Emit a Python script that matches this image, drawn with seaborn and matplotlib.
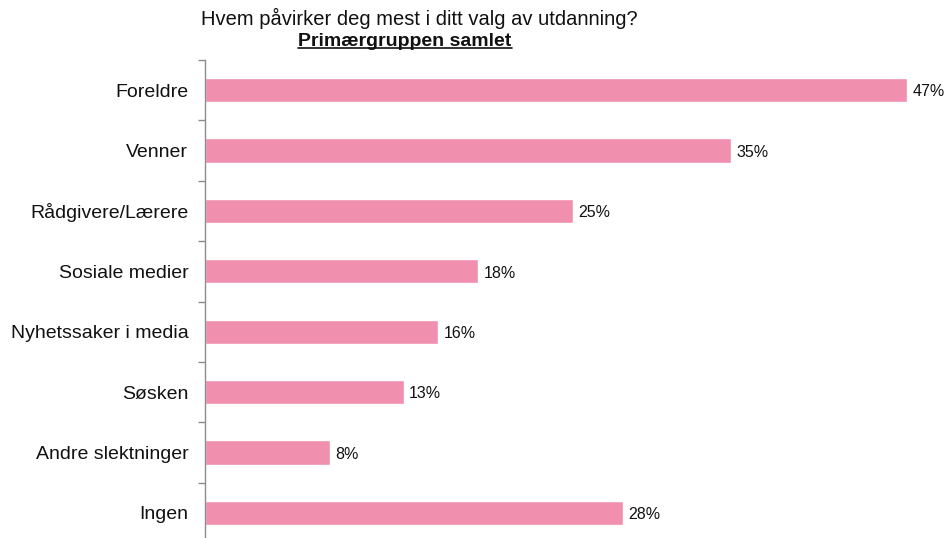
import pandas as pd
import matplotlib.pyplot as plt
import seaborn as sns
from matplotlib.lines import Line2D
from matplotlib.ticker import FixedLocator

# Data
categories = ['Foreldre', 'Venner', 'Rådgivere/Lærere', 'Sosiale medier',
              'Nyhetssaker i media', 'Søsken', 'Andre slektninger', 'Ingen']
shares = [47.0, 35.2, 24.6, 18.3, 15.6, 13.3, 8.4, 28.0]
labels = ['47%', '35%', '25%', '18%', '16%', '13%', '8%', '28%']

df = pd.DataFrame({'Kategori': categories, 'Andel': shares})

sns.set_style('white')
plt.rcParams['font.family'] = ['Liberation Sans', 'DejaVu Sans']

fig = plt.figure(figsize=(9.52, 5.38), dpi=100)
ax = fig.add_axes([205 / 952, -5 / 538, 1 - 205 / 952, 483 / 538])

sns.barplot(data=df, x='Andel', y='Kategori', orient='h', color='#F090AE',
            width=0.4, saturation=1, ax=ax)

ax.set_xlim(0, 50)
ax.set_ylim(len(categories) - 0.5, -0.5)
ax.set_xlabel('')
ax.set_ylabel('')
ax.set_xticks([])

# Spines: only the left axis line
for side in ['top', 'right', 'bottom']:
    ax.spines[side].set_visible(False)
ax.spines['left'].set_color('#8c8c8c')
ax.spines['left'].set_linewidth(1)

ax.tick_params(axis='y', which='major', left=True, length=0, pad=12,
               labelsize=14, labelcolor='#111111')
ax.yaxis.set_minor_locator(FixedLocator([i - 0.5 for i in range(len(categories) + 1)]))
ax.tick_params(axis='y', which='minor', left=True, length=5, width=1,
               color='#8c8c8c', direction='out')

# Value labels
for i, (v, lab) in enumerate(zip(shares, labels)):
    ax.text(v + 0.35, i + 0.03, lab, va='center', ha='left', fontsize=11.5, color='#111111')

# Title
fig.text(419 / 952, 1 - 18 / 538, 'Hvem påvirker deg mest i ditt valg av utdanning?',
         ha='center', va='center', fontsize=14.5, color='#111111')
sub = fig.text(405 / 952, 1 - 41 / 538, 'Primærgruppen samlet',
               ha='center', va='center', fontsize=14, fontweight='bold', color='#111111')

# Underline for the subtitle
fig.canvas.draw()
bb = sub.get_window_extent().transformed(fig.transFigure.inverted())
fig.add_artist(Line2D([bb.x0, bb.x1], [bb.y0 + 0.002, bb.y0 + 0.002],
                      transform=fig.transFigure, color='#111111', linewidth=1.2))

fig.savefig('out.png', dpi=100)
